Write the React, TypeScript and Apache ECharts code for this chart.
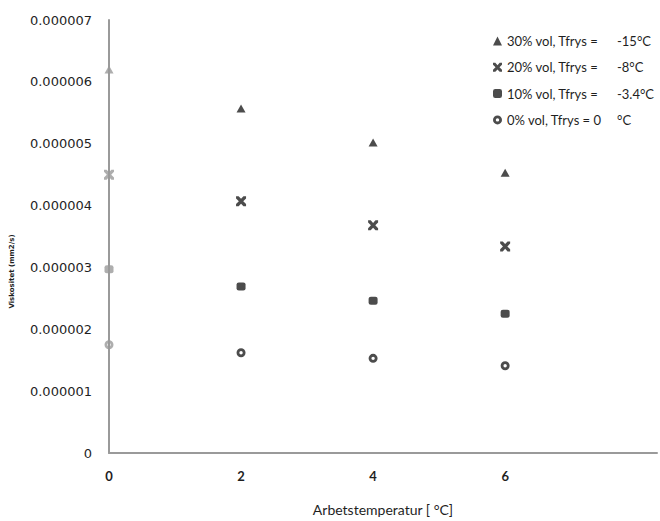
import React, { useEffect, useRef } from "react";
import * as echarts from "echarts";

const xTemps = [0, 2, 4, 6];
const seriesNames = [
  "30% vol, Tfrys =|-15°C",
  "20% vol, Tfrys =|-8°C",
  "10% vol, Tfrys =|-3.4°C",
  "0% vol, Tfrys = 0|°C",
];
const vol30 = [6.2e-6, 5.57e-6, 5.02e-6, 4.53e-6];
const vol20 = [4.5e-6, 4.07e-6, 3.68e-6, 3.34e-6];
const vol10 = [2.97e-6, 2.69e-6, 2.46e-6, 2.25e-6];
const vol0 = [1.75e-6, 1.62e-6, 1.53e-6, 1.41e-6];
const yTickStep = 0.000001;

const CROSS =
  "path://M0,0 L2.6,0 L5,2.6 L7.4,0 L10,0 L10,2.2 L7.2,5 L10,7.8 L10,10 L7.4,10 L5,7.4 L2.6,10 L0,10 L0,7.8 L2.8,5 L0,2.2 Z";
const RING =
  "path://M5,0 A5,5 0 1,1 5,10 A5,5 0 1,1 5,0 Z M5,3.1 A1.9,1.9 0 1,0 5,6.9 A1.9,1.9 0 1,0 5,3.1 Z";

const DARK = "#1f1f1f";
const GREY = "#9a9a9a";

function build(values: number[]) {
  return values.map((v, i) => ({
    value: [xTemps[i], v],
    itemStyle: { color: i === 0 ? GREY : DARK },
  }));
}

export default function App() {
  const ref = useRef<HTMLDivElement>(null);
  useEffect(() => {
    const chart = echarts.init(ref.current!, null, { renderer: "svg" });
    const base = {
      type: "scatter" as const,
      itemStyle: { color: DARK },
    };
    chart.setOption({
      animation: false,
      backgroundColor: "#ffffff",
      grid: { left: 108, right: 0, top: 20, bottom: 66, containLabel: false },
      legend: {
        orient: "vertical",
        left: 488,
        top: 29,
        itemWidth: 9,
        itemHeight: 9,
        itemGap: 12.3,
        data: seriesNames,
        formatter: (name: string) => {
          const [a, b] = name.split("|");
          return `{a|${a}}{b|${b}}`;
        },
        textStyle: {
          color: DARK,
          lineHeight: 14,
          rich: {
            a: { width: 110, fontFamily: "Lato", fontSize: 13, color: DARK },
            b: { fontFamily: "Lato", fontSize: 13, color: DARK },
          },
        },
      },
      xAxis: {
        type: "value",
        min: 0,
        max: 8.3,
        interval: 2,
        name: "Arbetstemperatur [ °C]",
        nameLocation: "middle",
        nameGap: 49,
        nameTextStyle: { fontFamily: "Lato", fontSize: 14, color: DARK },
        axisLine: { show: true, lineStyle: { color: GREY, width: 2 } },
        axisTick: { show: false },
        splitLine: { show: false },
        axisLabel: {
          margin: 16,
          fontFamily: "Lato",
          fontSize: 13,
          fontWeight: "bold",
          color: DARK,
          formatter: (v: number) => (v > 7 ? "" : String(v)),
        },
      },
      yAxis: {
        type: "value",
        min: 0,
        max: 0.000007,
        interval: yTickStep,
        name: "Viskositet (mm2/s)",
        nameLocation: "middle",
        nameGap: 94,
        nameTextStyle: {
          fontFamily: "DejaVu Sans",
          fontSize: 7,
          fontWeight: "bold",
          color: DARK,
          padding: [0, 70, 0, 0],
        },
        axisLine: { show: true, lineStyle: { color: GREY, width: 2 } },
        axisTick: { show: false },
        splitLine: { show: false },
        axisLabel: {
          margin: 17,
          fontFamily: "DejaVu Sans",
          fontSize: 13,
          color: DARK,
          formatter: (v: number) => (v === 0 ? "0" : v.toFixed(6)),
        },
      },
      series: [
        { ...base, name: seriesNames[0], symbol: "triangle", symbolSize: [9, 8], data: build(vol30) },
        { ...base, name: seriesNames[1], symbol: CROSS, symbolSize: 10, data: build(vol20) },
        { ...base, name: seriesNames[2], symbol: "roundRect", symbolSize: [9, 8], data: build(vol10) },
        { ...base, name: seriesNames[3], symbol: RING, symbolSize: 9, data: build(vol0) },
      ],
    });
    return () => chart.dispose();
  }, []);
  return (
    <div
      ref={ref}
      style={{ position: "fixed", left: 0, top: 0, width: 660, height: 521 }}
    />
  );
}
